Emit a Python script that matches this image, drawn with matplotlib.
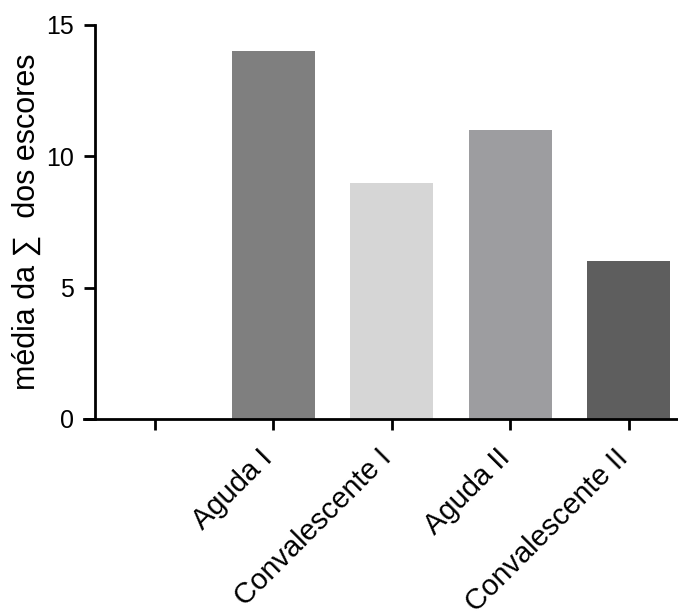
import numpy as np
import matplotlib
matplotlib.use("Agg")
import matplotlib.pyplot as plt
import matplotlib.transforms as mtransforms

plt.rcParams['font.family'] = ['Liberation Sans', 'DejaVu Sans']

#--- Data ---#
categories = ["", "Aguda I", "Convalescente I", "Aguda II", "Convalescente II"]
values = [0, 14, 9, 11, 6]
bar_colors = ["#ffffff", "#7f7f7f", "#d6d6d6", "#9d9da0", "#5e5e5e"]
y_ticks = [0, 5, 10, 15]

#--- Figure ---#
W, H = 678, 616
fig = plt.figure(figsize=(W / 100, H / 100), dpi=100)

# axes box in pixels: left 84, right 678, bottom 419, top 25
ax_left, ax_w = 84, 678 - 84
ax = fig.add_axes([ax_left / W, (H - 419) / H, ax_w / W, (419 - 25) / H])

x = np.arange(len(categories))
ax.bar(x[1:], values[1:], width=0.70, color=bar_colors[1:], edgecolor="none")

ax.set_xlim(-0.599, 4.414)
ax.set_ylim(0, 15)

ax.spines['top'].set_visible(False)
ax.spines['right'].set_visible(False)
ax.spines['left'].set_position(('data', -0.506))
ax.spines['left'].set_bounds(0, 15)
for s in ['left', 'bottom']:
    ax.spines[s].set_linewidth(2)

ax.set_yticks(y_ticks)
ax.set_yticklabels([str(v) for v in y_ticks], fontsize=18)
ax.set_xticks(x)
ax.set_xticklabels(categories, fontsize=21, rotation=45, ha='right')
ax.tick_params(axis='both', length=8, width=2, direction='out')
ax.tick_params(axis='y', pad=7)
ax.tick_params(axis='x', pad=10)

# nudge rotated labels a bit to the right, like the original
shift = mtransforms.ScaledTranslation(5 / 100, 0, fig.dpi_scale_trans)
for lbl in ax.get_xticklabels():
    lbl.set_transform(lbl.get_transform() + shift)

ax.set_ylabel("média da ∑  dos escores", fontsize=22)
ax.yaxis.set_label_coords((42 - ax_left) / ax_w, 0.5)

fig.savefig("out.png", dpi=100)
